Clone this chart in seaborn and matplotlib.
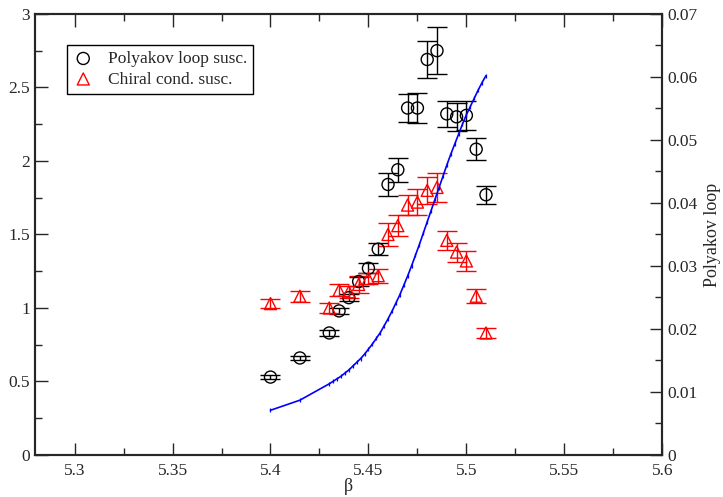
import numpy as np
import pandas as pd
import seaborn as sns
import matplotlib.pyplot as plt
from matplotlib.ticker import MultipleLocator

# Polyakov loop susceptibility (left axis)
beta_pl = [5.40, 5.415, 5.43, 5.435, 5.44, 5.445, 5.45, 5.455, 5.46, 5.465,
           5.47, 5.475, 5.48, 5.485, 5.49, 5.495, 5.50, 5.505, 5.51]
chi_pl = [0.53, 0.66, 0.83, 0.98, 1.07, 1.18, 1.27, 1.40, 1.84, 1.94,
          2.36, 2.36, 2.69, 2.75, 2.32, 2.30, 2.31, 2.08, 1.77]
err_pl = [0.012, 0.014, 0.02, 0.02, 0.022, 0.03, 0.035, 0.04, 0.08, 0.08,
          0.095, 0.105, 0.125, 0.16, 0.09, 0.095, 0.10, 0.075, 0.06]

# chiral condensate susceptibility (left axis)
beta_cc = [5.40, 5.415, 5.43, 5.435, 5.44, 5.445, 5.45, 5.455, 5.46, 5.465,
           5.47, 5.475, 5.48, 5.485, 5.49, 5.495, 5.50, 5.505, 5.51]
chi_cc = [1.03, 1.08, 1.00, 1.12, 1.11, 1.16, 1.20, 1.22, 1.50, 1.56,
          1.70, 1.72, 1.80, 1.82, 1.46, 1.38, 1.32, 1.08, 0.83]
err_cc = [0.033, 0.037, 0.036, 0.04, 0.04, 0.055, 0.04, 0.048, 0.08, 0.07,
          0.07, 0.09, 0.09, 0.10, 0.063, 0.065, 0.068, 0.048, 0.034]

# Polyakov loop (right axis)
beta_p = [5.40, 5.415, 5.430, 5.432, 5.434, 5.436, 5.438, 5.440, 5.442, 5.444,
          5.446, 5.448, 5.450, 5.452, 5.454, 5.456, 5.458, 5.460, 5.462, 5.464,
          5.466, 5.468, 5.470, 5.472, 5.474, 5.476, 5.478, 5.480, 5.482, 5.484,
          5.486, 5.488, 5.490, 5.492, 5.494, 5.496, 5.498, 5.500, 5.502, 5.504,
          5.506, 5.508, 5.510]
ploop = [0.0071, 0.0087, 0.0113, 0.0117, 0.0121, 0.0125, 0.0130, 0.0135, 0.0141, 0.0147,
         0.0153, 0.0160, 0.0168, 0.0176, 0.0185, 0.0194, 0.0205, 0.0216, 0.0228, 0.0241,
         0.0254, 0.0269, 0.0284, 0.0300, 0.0317, 0.0334, 0.0352, 0.0370, 0.0388, 0.0406,
         0.0424, 0.0442, 0.0460, 0.0477, 0.0493, 0.0509, 0.0525, 0.0540, 0.0553, 0.0566,
         0.0579, 0.0591, 0.0602]

sns.set_theme(style="ticks")
plt.rcParams['font.family'] = ['Liberation Serif', 'DejaVu Serif']

fig = plt.figure(figsize=(7.23, 4.97), dpi=100)
ax = fig.add_axes([0.049, 0.0845, 0.867, 0.8875])
ax2 = ax.twinx()

df_pl = pd.DataFrame({"beta": beta_pl, "chi": chi_pl, "err": err_pl})
df_cc = pd.DataFrame({"beta": beta_cc, "chi": chi_cc, "err": err_cc})
df_p = pd.DataFrame({"beta": beta_p, "p": ploop})

# error bars
ax.errorbar(df_pl["beta"], df_pl["chi"], yerr=df_pl["err"], fmt="none",
            ecolor="black", elinewidth=1.0, capsize=7, capthick=1.0, zorder=2)
ax.errorbar(df_cc["beta"], df_cc["chi"], yerr=df_cc["err"], fmt="none",
            ecolor="red", elinewidth=1.0, capsize=7, capthick=1.0, zorder=2)

sns.scatterplot(data=df_pl, x="beta", y="chi", ax=ax, marker="o", s=75,
                facecolors="none", edgecolor="black", linewidth=1.0,
                label="Polyakov loop susc.", zorder=3)
sns.scatterplot(data=df_cc, x="beta", y="chi", ax=ax, marker="^", s=75,
                facecolors="none", edgecolor="red", linewidth=1.0,
                label="Chiral cond. susc.", zorder=3)

sns.lineplot(data=df_p, x="beta", y="p", ax=ax2, color="blue", linewidth=1.2,
             marker="|", markersize=3.5, markeredgewidth=0.9,
             markeredgecolor="blue", legend=False)

ax.set_xlim(5.28, 5.6)
ax.set_ylim(0, 3)
ax2.set_ylim(0, 0.07)

ax.xaxis.set_minor_locator(MultipleLocator(0.025))
ax.yaxis.set_minor_locator(MultipleLocator(0.25))
ax2.yaxis.set_minor_locator(MultipleLocator(0.005))

ax.set_xticks(np.arange(5.3, 5.61, 0.05))
ax.set_xticklabels(["5.3", "5.35", "5.4", "5.45", "5.5", "5.55", "5.6"])
ax.set_yticks(np.arange(0, 3.01, 0.5))
ax.set_yticklabels(["0", "0.5", "1", "1.5", "2", "2.5", "3"])
ax2.set_yticks(np.arange(0, 0.0701, 0.01))
ax2.set_yticklabels(["0", "0.01", "0.02", "0.03", "0.04", "0.05", "0.06", "0.07"])

ax.tick_params(axis="x", which="both", direction="in", top=True, labelsize=12.5, pad=6)
ax.tick_params(axis="y", which="both", direction="in", right=False, labelsize=12.5, pad=4)
ax.tick_params(which="major", length=9, width=1.0)
ax.tick_params(which="minor", length=5, width=1.0)
ax2.tick_params(axis="y", which="both", direction="in", labelsize=12.5, pad=4)
ax2.tick_params(which="major", length=9, width=1.0)
ax2.tick_params(which="minor", length=5, width=1.0)

for sp in ax.spines.values():
    sp.set_linewidth(1.5)
for sp in ax2.spines.values():
    sp.set_linewidth(1.5)

ax.set_xlabel("β", fontsize=13, labelpad=-1)
ax.set_ylabel("")
ax2.set_ylabel("Polyakov loop", fontsize=13, labelpad=4)

leg = ax.legend(loc="upper left", bbox_to_anchor=(0.05, 0.93), borderaxespad=0,
                fontsize=12.5, frameon=True, fancybox=False, edgecolor="black",
                framealpha=1, handlelength=1.2, handletextpad=0.8,
                borderpad=0.35, labelspacing=0.25)
leg.get_frame().set_linewidth(1.0)

fig.savefig("out.png", dpi=100)
